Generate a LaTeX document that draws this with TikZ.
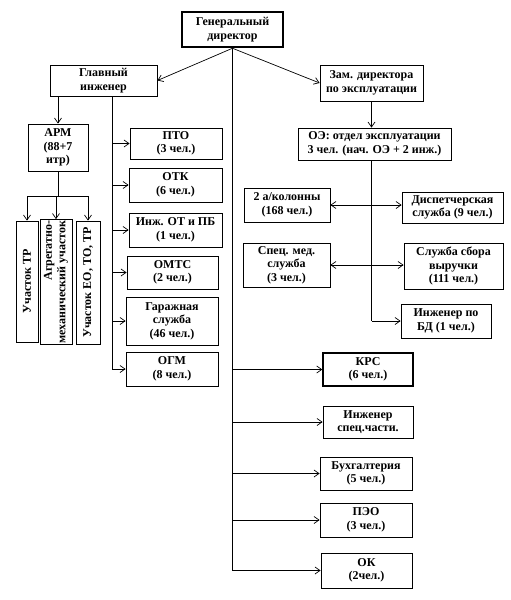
\documentclass[tikz,border=0pt]{standalone}
\usepackage{fontspec}
\setmainfont{Liberation Serif}
\usetikzlibrary{arrows.meta}

\begin{document}
\begin{tikzpicture}[x=1pt, y=-1pt,
  box/.style={draw, line width=0.8pt, inner sep=1pt, align=center,
    font=\fontsize{12}{13.5}\selectfont\bfseries},
  vbox/.style={box, rotate=90},
  arr/.style={-{Straight Barb[length=5pt,width=7pt]}, line width=0.7pt},
  arrboth/.style={{Straight Barb[length=5pt,width=7pt]}-{Straight Barb[length=5pt,width=7pt]}, line width=0.7pt},
  wire/.style={line width=0.7pt}
]
  \useasboundingbox (0,0) rectangle (511,600);

  % top level
  \node[box, line width=2.5pt, minimum width=101pt, minimum height=35pt] (gd) at (232.5,29.5) {Генеральный\\директор};
  \node[box, minimum width=107pt, minimum height=31pt] (gi) at (103.5,80.5) {Главный\\инженер};
  \node[box, minimum width=103pt, minimum height=36pt] (zam) at (371.5,83) {Зам. директора\\по эксплуатации};

  % chief engineer branch
  \node[box, minimum width=60pt, minimum height=47pt] (arm) at (58,147.5) {АРМ\\(88+7\\итр)};
  \node[box, minimum width=92pt, minimum height=31pt] (pto) at (176,143.5) {ПТО\\(3 чел.)};
  \node[box, minimum width=93pt, minimum height=34pt] (otk) at (175.5,185) {ОТК\\(6 чел.)};
  \node[box, minimum width=93pt, minimum height=34pt] (inzh) at (175.5,230) {Инж. ОТ и ПБ\\(1 чел.)};
  \node[box, minimum width=91pt, minimum height=33pt] (omts) at (172.5,272.5) {ОМТС\\(2 чел.)};
  \node[box, minimum width=92pt, minimum height=48pt] (garazh) at (172,321) {Гаражная\\служба\\(46 чел.)};
  \node[box, minimum width=92pt, minimum height=34pt] (ogm) at (172,369) {ОГМ\\(8 чел.)};

  \node[vbox, minimum width=121pt, minimum height=22pt] (uchtr) at (27,281.5) {Участок ТР};
  \node[vbox, align=right, minimum width=122pt, minimum height=32pt] (agr) at (56,282) {Агрегатно-\\механический участок};
  \node[vbox, minimum width=123pt, minimum height=24pt] (ucheo) at (88,282.5) {Участок ЕО, ТО, ТР};

  % operations branch
  \node[box, minimum width=153pt, minimum height=32pt] (oe) at (374.5,144) {ОЭ: отдел эксплуатации\\3 чел. (нач. ОЭ + 2 инж.)};
  \node[box, minimum width=86pt, minimum height=34pt] (kol) at (287,205) {2 а/колонны\\(168 чел.)};
  \node[box, minimum width=101pt, minimum height=31pt] (disp) at (452.5,207.5) {Диспетчерская\\служба (9 чел.)};
  \node[box, minimum width=87pt, minimum height=44pt] (med) at (286.5,265) {Спец. мед.\\служба\\(3 чел.)};
  \node[box, minimum width=99pt, minimum height=46pt] (sbor) at (453.5,266) {Служба сбора\\выручки\\(111 чел.)};
  \node[box, minimum width=90pt, minimum height=34pt] (bd) at (446,321) {Инженер по\\БД (1 чел.)};

  % director's own services
  \node[box, line width=1.4pt, minimum width=90pt, minimum height=33pt] (krs) at (368,369.5) {КРС\\(6 чел.)};
  \node[box, minimum width=90pt, minimum height=32pt] (spec) at (368,422) {Инженер\\спец.части.};
  \node[box, minimum width=92pt, minimum height=33pt] (buh) at (366,473.5) {Бухгалтерия\\(5 чел.)};
  \node[box, minimum width=92pt, minimum height=34pt] (peo) at (366,520) {ПЭО\\(3 чел.)};
  \node[box, minimum width=91pt, minimum height=35pt] (ok) at (366.5,570.5) {ОК\\(2чел.)};

  \draw[arr] (gd.south) -- (gi.east);
  \draw[arr] (gd.south) -- (zam.west);
  \draw[wire] (gd.south) -- (gd.south |- ok.west);
  \foreach \n in {krs,spec,buh,peo,ok}
    \draw[arr] (gd.south |- \n.west) -- (\n.west);

  \coordinate (gibus) at ([xshift=8.5pt]gi.south);
  \draw[arr] (arm.north |- gi.south) -- (arm.north);
  \draw[wire] (gibus) -- (gibus |- ogm.west);
  \foreach \n in {pto,otk,inzh,omts,garazh,ogm}
    \draw[arr] (gibus |- \n.west) -- (\n.west);

  \coordinate (armbus) at ([yshift=-25pt]arm.south);
  \draw[wire] (arm.south) -- (armbus);
  \draw[wire] (armbus -| uchtr.east) -- (armbus -| ucheo.east);
  \foreach \n in {uchtr,agr,ucheo}
    \draw[arr] (armbus -| \n.east) -- (\n.east);

  \draw[arr] (zam.south) -- (zam.south |- oe.north);
  \draw[wire] (zam.south |- oe.south) -- (zam.south |- bd.west);
  \draw[arr] (zam.south |- bd.west) -- (bd.west);
  \draw[arrboth] (kol.east) -- (kol.east -| disp.west);
  \draw[arrboth] (med.east) -- (med.east -| sbor.west);
\end{tikzpicture}
\end{document}
